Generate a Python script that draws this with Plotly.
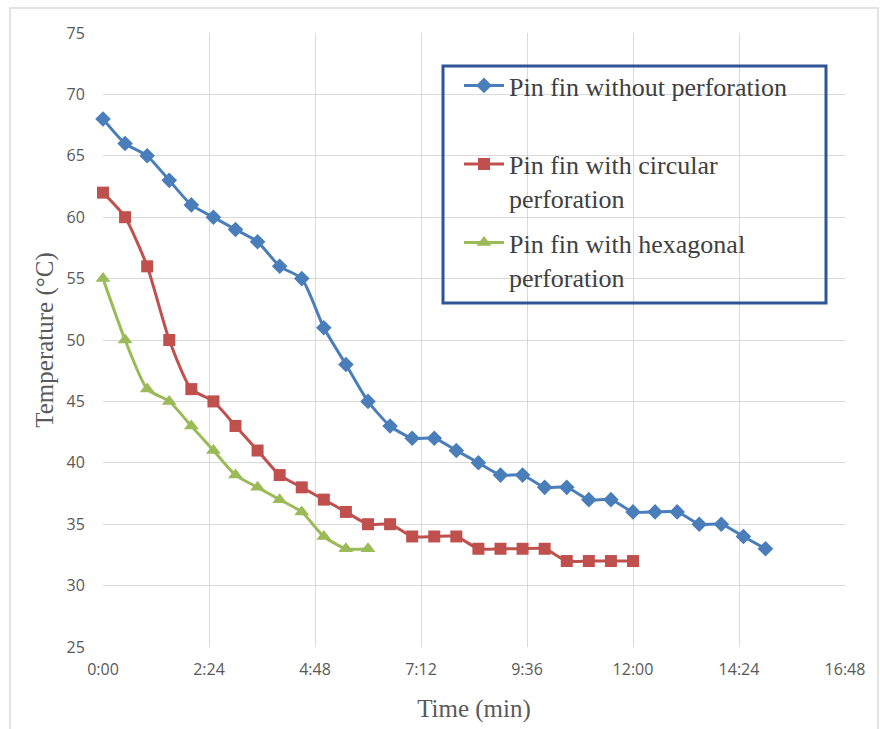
import plotly.graph_objects as go

# Time in minutes (0.5 min steps)
t_blue = [i * 0.5 for i in range(31)]
t_red = [i * 0.5 for i in range(25)]
t_green = [i * 0.5 for i in range(13)]

temp_without = [68, 66, 65, 63, 61, 60, 59, 58, 56, 55, 51, 48, 45, 43, 42, 42,
                41, 40, 39, 39, 38, 38, 37, 37, 36, 36, 36, 35, 35, 34, 33]
temp_circular = [62, 60, 56, 50, 46, 45, 43, 41, 39, 38, 37, 36, 35, 35, 34, 34,
                 34, 33, 33, 33, 33, 32, 32, 32, 32]
temp_hexagonal = [55, 50, 46, 45, 43, 41, 39, 38, 37, 36, 34, 33, 33]

x_tickvals = [0, 2.4, 4.8, 7.2, 9.6, 12.0, 14.4, 16.8]
x_ticktext = ["0:00", "2:24", "4:48", "7:12", "9:36", "12:00", "14:24", "16:48"]
y_tickvals = [25, 30, 35, 40, 45, 50, 55, 60, 65, 70, 75]

names = ["Pin fin without perforation<br> ",
         "Pin fin with circular<br>perforation",
         "Pin fin with hexagonal<br>perforation"]
colors = ["#4A7EBB", "#C0504D", "#9BBB59"]
symbols = ["diamond", "square", "triangle-up"]
sizes = [12, 12, 13]

fig = go.Figure()
for i, (xs, ys) in enumerate([(t_blue, temp_without), (t_red, temp_circular), (t_green, temp_hexagonal)]):
    fig.add_trace(go.Scatter(
        x=xs, y=ys, name=names[i], mode="lines+markers",
        legendgroup=f"g{i}", cliponaxis=False,
        line=dict(color=colors[i], width=3, shape="spline", smoothing=0.6),
        marker=dict(symbol=symbols[i], size=sizes[i], color=colors[i]),
    ))

serif = "Liberation Serif, Times New Roman, serif"
fig.update_layout(
    width=880, height=729,
    margin=dict(l=103, r=35, t=33, b=82),
    paper_bgcolor="white", plot_bgcolor="white",
    font=dict(family=serif, color="#595959"),
    showlegend=True,
    legend=dict(
        x=(459 - 103) / 742, y=(647 - 62) / 614, xanchor="left", yanchor="top",
        bgcolor="rgba(0,0,0,0)", borderwidth=0, valign="top",
        font=dict(family=serif, size=26, color="#404040"),
        tracegroupgap=8, itemwidth=40,
    ),
    xaxis=dict(
        range=[0, 16.8], tickvals=x_tickvals, ticktext=x_ticktext,
        showgrid=True, gridcolor="#D9D9D9", gridwidth=1, zeroline=False, showline=False,
        ticks="outside", ticklen=8, tickcolor="rgba(0,0,0,0)",
        tickfont=dict(family="Open Sans, sans-serif", size=16, color="#595959"),
        title=dict(text="Time (min)", font=dict(family=serif, size=25, color="#595959"), standoff=20),
    ),
    yaxis=dict(
        range=[25, 75], tickvals=y_tickvals,
        showgrid=True, gridcolor="#D9D9D9", gridwidth=1, zeroline=False, showline=False,
        ticks="outside", ticklen=14, tickcolor="rgba(0,0,0,0)",
        tickfont=dict(family="Open Sans, sans-serif", size=16, color="#595959"),
        title=dict(text="Temperature (°C)", font=dict(family=serif, size=25, color="#595959"), standoff=5),
    ),
    shapes=[
        dict(type="rect", xref="paper", yref="paper",
             x0=(10 - 103) / 742, x1=(878 - 103) / 742,
             y0=(647 - 740) / 614, y1=(647 - 8) / 614,
             line=dict(color="#D9D9D9", width=1.5), fillcolor="rgba(0,0,0,0)", layer="below"),
        dict(type="rect", xref="paper", yref="paper",
             x0=(443 - 103) / 742, x1=(826 - 103) / 742,
             y0=(647 - 303) / 614, y1=(647 - 66) / 614,
             line=dict(color="#2F5597", width=3), fillcolor="rgba(0,0,0,0)", layer="above"),
    ],
)

fig.write_html("out.html")
